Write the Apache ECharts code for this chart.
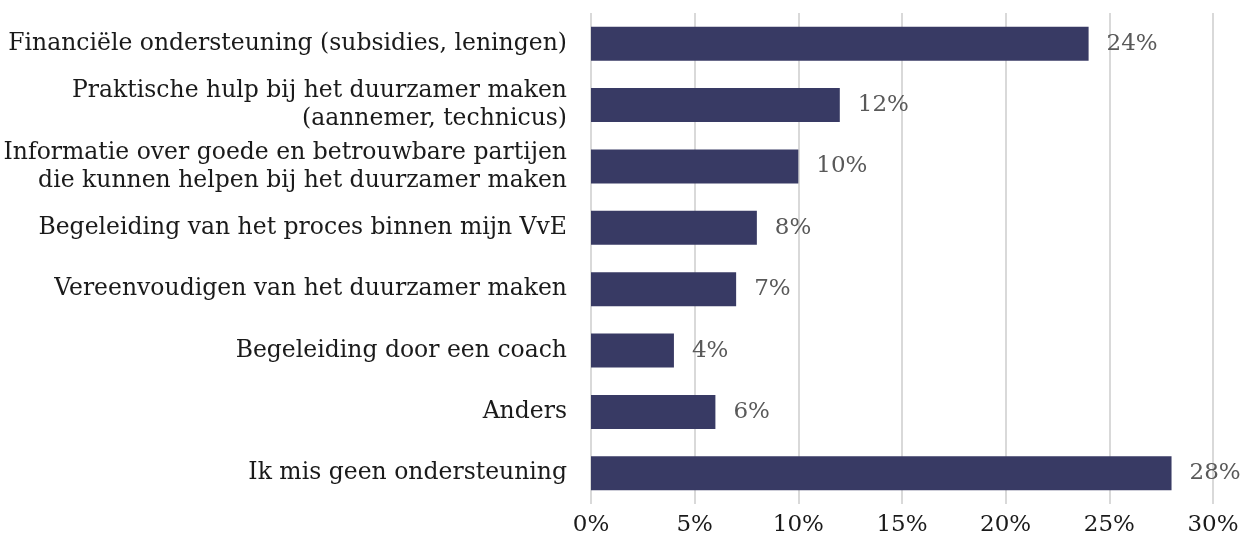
<!DOCTYPE html>
<html><head><meta charset="utf-8">
<script src="https://cdn.jsdelivr.net/npm/echarts@6/dist/echarts.min.js"></script>
<style>html,body{margin:0;padding:0;background:#fff}#c{width:1245px;height:546px}</style>
</head><body><div id="c"></div>
<script>
const categories = [
  "Financiële ondersteuning (subsidies, leningen)",
  "Praktische hulp bij het duurzamer maken\n(aannemer, technicus)",
  "Informatie over goede en betrouwbare partijen\ndie kunnen helpen bij het duurzamer maken",
  "Begeleiding van het proces binnen mijn VvE",
  "Vereenvoudigen van het duurzamer maken",
  "Begeleiding door een coach",
  "Anders",
  "Ik mis geen ondersteuning"
];
const values = [24, 12, 10, 8, 7, 4, 6, 28];
const chart = echarts.init(document.getElementById('c'));
const font = "'DejaVu Serif', serif";
chart.setOption({
  animation: false,
  grid: {left: 591, right: 32, top: 13, bottom: 42},
  xAxis: {
    type: 'value', min: 0, max: 30, interval: 5,
    axisLine: {show: false}, axisTick: {show: false},
    splitLine: {lineStyle: {color: '#d9d9d9', width: 2}},
    axisLabel: {formatter: '{value}%', color: '#1a1a1a', fontFamily: font, fontSize: 23, margin: 10}
  },
  yAxis: {
    type: 'category', data: categories, inverse: true,
    axisLine: {show: false}, axisTick: {show: false},
    axisLabel: {color: '#1a1a1a', fontFamily: font, fontSize: 23.5, lineHeight: 28, margin: 24, align: 'right'}
  },
  series: [{
    type: 'bar', data: values, barWidth: 34,
    itemStyle: {color: '#383a64'},
    label: {show: true, position: 'right', distance: 18, formatter: '{c}%', color: '#595959', fontFamily: font, fontSize: 23}
  }]
});
</script></body></html>
